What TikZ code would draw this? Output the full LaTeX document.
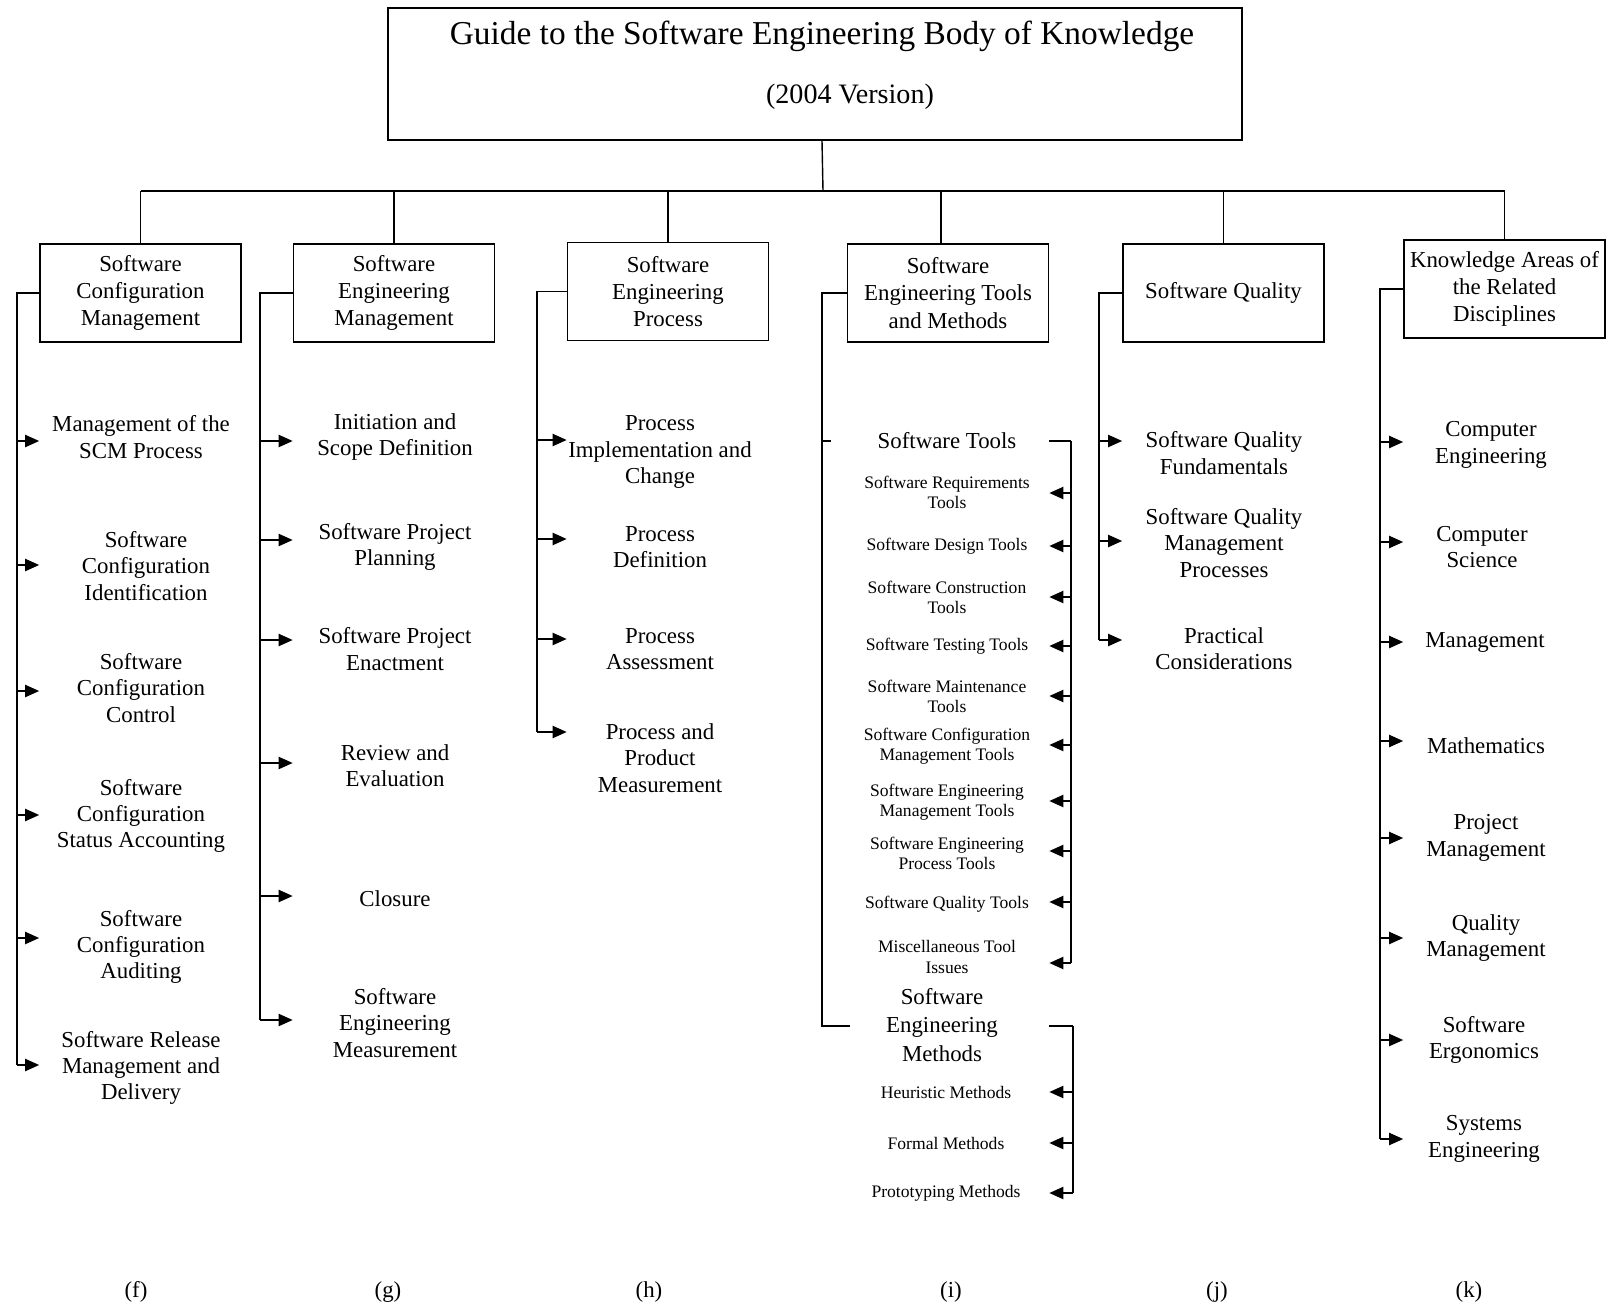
\documentclass[tikz,border=0pt]{standalone}
\usepackage{fontspec}
\setmainfont{Liberation Serif}
\usetikzlibrary{arrows.meta}

\tikzset{
  box/.style={draw, line width=1pt, minimum width=4.02cm, minimum height=1.96cm,
    inner sep=1pt, align=center, font=\fontsize{13}{15.5}\selectfont},
  leaf/.style={align=center, inner sep=1pt, font=\fontsize{13}{15}\selectfont},
  tool/.style={align=center, inner sep=1pt, font=\fontsize{10}{11.5}\selectfont},
  arr/.style={-{Triangle[length=8pt,width=7pt]}},
}

\begin{document}
\begin{tikzpicture}[x=0.02cm, y=-0.02cm, line width=0.8pt]
    \useasboundingbox (0,0) rectangle (1613,1308);

    % Заголовок
    \node[draw, line width=1pt, minimum width=17.08cm, minimum height=2.64cm] (guide) at (815,74) {};
    \node[font=\fontsize{19}{22}\selectfont] (guidetxt) at (822,36) {Guide to the Software Engineering Body of Knowledge};
    \node[font=\fontsize{16}{19}\selectfont] (guidever) at (850,97) {(2004 Version)};

    % Области знаний
    \node[box] (scm) at (140.5,293) {Software\\Configuration\\Management};
    \node[box] (sem) at (394,293) {Software\\Engineering\\Management};
    \node[box] (sep) at (668,291.5) {Software\\Engineering\\Process};
    \node[box] (setm) at (948,293) {Software\\Engineering Tools\\and Methods};
    \node[box] (sq) at (1223.5,293) {Software Quality};
    \node[box] (kard) at (1504.5,289) {Knowledge Areas of\\the Related\\Disciplines};

    % Шина
    \coordinate (bus) at (823,191);
    \coordinate (setm-t) at (941,191);
    \draw (guidetxt |- guide.south) -- (bus);
    \draw (scm.north |- bus) -- (kard.north |- bus);
    \foreach \b in {scm,sem,sep,sq,kard}
        \draw (\b.north |- bus) -- (\b.north);
    \draw (setm-t) -- (setm-t |- setm.north);

    % Configuration Management
    \foreach \t/\tx/\ty/\ay [count=\i] in {
        {Management of the\\SCM Process}/141/437/441,
        {Software\\Configuration\\Identification}/146/566/565,
        {Software\\Configuration\\Control}/141/688/691,
        {Software\\Configuration\\Status Accounting}/141/816/815,
        {Software\\Configuration\\Auditing}/141/947/938,
        {Software Release\\Management and\\Delivery}/141/1068/1065}
    {
        \node[leaf] (scm\i) at (\tx,\ty) {\t};
        \coordinate (scm-a\i) at (17,\ay);
        \draw[arr] (scm-a\i) -- (scm-a\i -| scm.west);
    }
    \draw (scm.west) -| (scm-a6);

    % Engineering Management
    \foreach \t/\ty/\ay [count=\i] in {
        {Initiation and\\Scope Definition}/437/441,
        {Software Project\\Planning}/547/540,
        {Software Project\\Enactment}/649/640,
        {Review and\\Evaluation}/766/763,
        {Closure}/899/896,
        {Software\\Engineering\\Measurement}/1023/1020}
    {
        \node[leaf] (sem\i) at (395,\ty) {\t};
        \coordinate (sem-a\i) at (260,\ay);
        \draw[arr] (sem-a\i) -- (sem-a\i -| sem.west);
    }
    \draw (sem.west) -| (sem-a6);

    % Engineering Process
    \foreach \t/\ty/\ay [count=\i] in {
        {Process\\Implementation and\\Change}/452/440,
        {Process\\Definition}/547/539,
        {Process\\Assessment}/649/639,
        {Process and\\Product\\Measurement}/758/732}
    {
        \node[leaf] (sep\i) at (660,\ty) {\t};
        \coordinate (sep-a\i) at (537,\ay);
        \draw[arr] (sep-a\i) -- (sep-a\i -| sep.west);
    }
    \draw (sep.west) -| (sep-a4);

    % Tools and Methods
    \node[leaf, font=\fontsize{13}{16}\selectfont] (tools) at (947,441) {Software Tools};
    \coordinate (tools-a) at (822,441);
    \coordinate (toolsR) at (1071,441);
    \draw (tools-a) -- ++(9,0);
    \draw (setm.east |- toolsR) -- (toolsR);
    \foreach \t/\ty/\ay [count=\i] in {
        {Software Requirements\\Tools}/492/493,
        {Software Design Tools}/546/546,
        {Software Construction\\Tools}/597/597,
        {Software Testing Tools}/646/646,
        {Software Maintenance\\Tools}/696/696,
        {Software Configuration\\Management Tools}/746/745,
        {Software Engineering\\Management Tools}/802/801,
        {Software Engineering\\Process Tools}/853/851,
        {Software Quality Tools}/904/902,
        {Miscellaneous Tool\\Issues}/957/963}
    {
        \node[tool] (t\i) at (947,\ty) {\t};
        \coordinate (t-a\i) at (1071,\ay);
        \draw[arr] (t-a\i) -- (t-a\i -| setm.east);
    }
    \draw (toolsR) -- (t-a10);

    \node[leaf, font=\fontsize{13}{16}\selectfont] (meth) at (942,1025) {Software\\Engineering\\Methods};
    \coordinate (meth-a) at (822,1026);
    \coordinate (methR) at (1073,1026);
    \draw (setm.west) -| (meth-a) -- ++(28,0);
    \draw (setm.east |- methR) -- (methR);
    \foreach \t/\ty [count=\i] in {
        {Heuristic Methods}/1092,
        {Formal Methods}/1143,
        {Prototyping Methods}/1193}
    {
        \node[tool] (m\i) at (946,\ty) {\t};
        \coordinate (m-a\i) at (1073,\ty);
        \draw[arr] (m-a\i) -- (m-a\i -| setm.east);
    }
    \draw (methR) -- (m-a3);

    % Software Quality
    \foreach \t/\ty/\ay [count=\i] in {
        {Software Quality\\Fundamentals}/453/441,
        {Software Quality\\Management\\Processes}/543/541,
        {Practical\\Considerations}/649/640}
    {
        \node[leaf] (sq\i) at (1224,\ty) {\t};
        \coordinate (sq-a\i) at (1099,\ay);
        \draw[arr] (sq-a\i) -- (sq-a\i -| sq.west);
    }
    \draw (sq.west) -| (sq-a3);

    % Related Disciplines
    \foreach \t/\tx/\ty/\ay [count=\i] in {
        {Computer\\Engineering}/1491/445/442,
        {Computer\\Science}/1482/547/542,
        {Management}/1485/642/642,
        {Mathematics}/1486/746/741,
        {Project\\Management}/1486/838/838,
        {Quality\\Management}/1486/938/938,
        {Software\\Ergonomics}/1484/1040/1040,
        {Systems\\Engineering}/1484/1139/1139}
    {
        \node[leaf] (kard\i) at (\tx,\ty) {\t};
        \coordinate (kard-a\i) at (1380,\ay);
        \draw[arr] (kard-a\i) -- (kard-a\i -| kard.west);
    }
    \draw (kard.west) -| (kard-a8);

    % Подписи
    \foreach \l/\x in {f/136,g/388,h/649,i/951,j/1217,k/1469}
        \node[leaf] (lab-\l) at (\x,1292) {(\l)};
\end{tikzpicture}
\end{document}
